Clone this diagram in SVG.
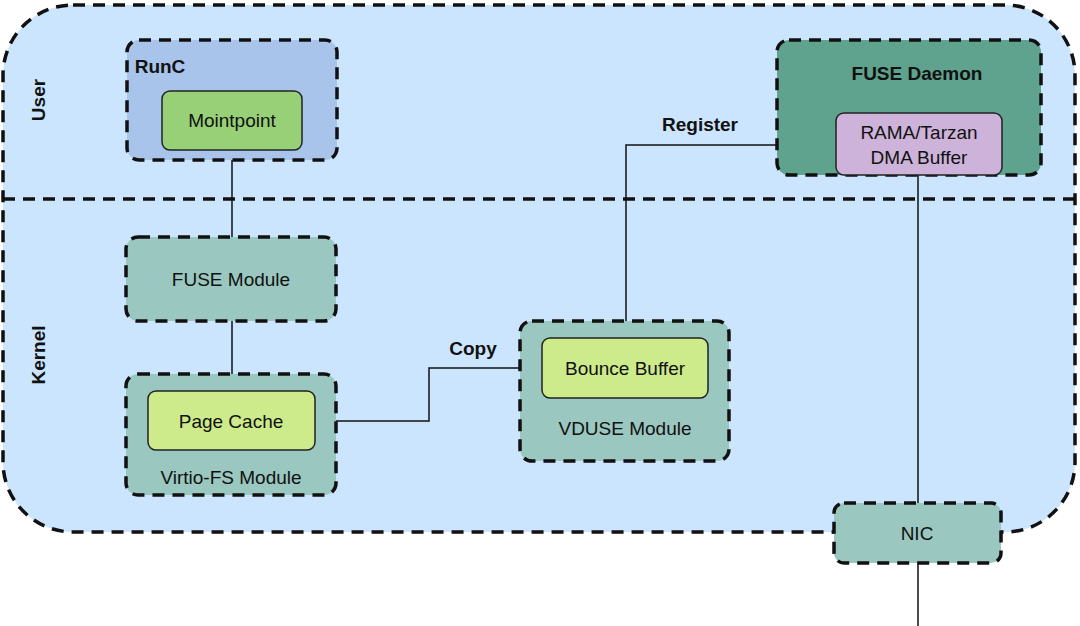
<svg xmlns="http://www.w3.org/2000/svg" width="1080" height="626" viewBox="0 0 1080 626">
<style>
text{font-family:"Liberation Sans",Arial,sans-serif;fill:#111;font-size:19px;text-anchor:middle;dominant-baseline:central}
.b{font-weight:bold}
.d{stroke:#111;stroke-width:3.5;stroke-dasharray:12 8}
.s{stroke:#222;stroke-width:1.5}
.teal{fill:#9ac7bf}
.lg{fill:#cdeb8b}
.c{fill:none;stroke:#111;stroke-width:1.5}
</style>
<rect width="1080" height="626" fill="#fff"/>
<g id="container">
<rect x="3" y="5" width="1072" height="527" rx="70" fill="#cce5ff" class="d"/>
<line x1="3" y1="199" x2="1075" y2="199" class="d"/>
<text class="b" transform="translate(38,100) rotate(-90)">User</text>
<text class="b" transform="translate(38,355) rotate(-90)">Kernel</text>
</g>
<g id="connectors">
<path class="c" d="M232,150V237"/>
<path class="c" d="M232,321V374"/>
<path class="c" d="M315,421H429V368H542"/>
<path class="c" d="M626,338V145H836"/>
<path class="c" d="M918,175V503"/>
<path class="c" d="M918,563V626"/>
<text class="b" x="473" y="348">Copy</text>
<text class="b" x="700" y="124">Register</text>
</g>
<g id="runc"><rect x="127" y="40" width="210" height="120" rx="12" fill="#a9c4eb" class="d"/><text class="b" x="160" y="66">RunC</text></g>
<g id="mointpoint"><rect x="162" y="91" width="140" height="59" rx="8" fill="#97d077" class="s"/><text x="232" y="120">Mointpoint</text></g>
<g id="fuse-daemon"><rect x="777" y="40" width="264" height="135" rx="12" fill="#5fa38f" class="d"/><text class="b" x="917" y="73">FUSE Daemon</text></g>
<g id="rama"><rect x="836" y="113" width="166" height="62" rx="8" fill="#cdb3d9" class="s"/><text x="919" y="132">RAMA/Tarzan</text><text x="919" y="157">DMA Buffer</text></g>
<g id="fuse-module"><rect x="126" y="237" width="210" height="84" rx="12" class="teal d"/><text x="231" y="279">FUSE Module</text></g>
<g id="virtio-fs"><rect x="126" y="374" width="210" height="121" rx="12" class="teal d"/><text x="231" y="477">Virtio-FS Module</text></g>
<g id="page-cache"><rect x="148" y="391" width="167" height="59" rx="8" class="lg s"/><text x="231" y="421">Page Cache</text></g>
<g id="vduse"><rect x="520" y="321" width="209" height="140" rx="12" class="teal d"/><text x="625" y="428">VDUSE Module</text></g>
<g id="bounce"><rect x="542" y="338" width="166" height="60" rx="8" class="lg s"/><text x="625" y="368">Bounce Buffer</text></g>
<g id="nic"><rect x="834" y="503" width="167" height="60" rx="10" class="teal d"/><text x="917" y="533">NIC</text></g>
</svg>
